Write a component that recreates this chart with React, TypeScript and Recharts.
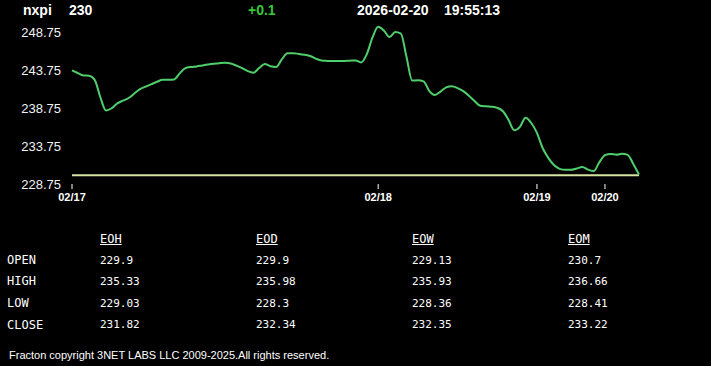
import React from "react";
import { LineChart, Line, XAxis, YAxis, ReferenceLine } from "recharts";

const SYMBOL = "nxpi";
const LAST = "230";
const CHANGE = "+0.1";
const QUOTE_DATE = "2026-02-20";
const QUOTE_TIME = "19:55:13";

const OPEN_REF = 229.9;
const Y_TICKS = [228.75, 233.75, 238.75, 243.75, 248.75];
const DAY_LABELS = ["02/17", "02/18", "02/19", "02/20"];
const DAY_START = [0, 54, 82, 94];

const PRICES = [
  243.75, 243.4, 243.08, 243.05, 242.5, 240.2, 238.45, 238.75, 239.4, 239.75,
  240.1, 240.7, 241.28, 241.6, 241.93, 242.25, 242.51, 242.5, 242.55, 243.35,
  244.05, 244.2, 244.27, 244.4, 244.52, 244.62, 244.7, 244.75, 244.65, 244.38,
  244.05, 243.65, 243.45, 244.05, 244.6, 244.3, 244.2, 245.2, 246.0, 246.02,
  245.92, 245.8, 245.65, 245.3, 245.05, 245.0, 244.98, 244.98, 245.0, 245.03,
  245.06, 244.8, 245.9, 248.1, 249.5, 249.0, 248.15, 248.8, 248.6, 245.5,
  242.4, 242.45, 242.3, 241.05, 240.5, 240.95, 241.5, 241.65, 241.4, 241.0,
  240.4, 239.7, 239.08, 239.0, 238.95, 238.8, 238.35, 237.2, 235.85, 236.3,
  237.5, 236.8, 235.5, 233.5, 232.2, 231.25, 230.75, 230.62, 230.63, 230.8,
  231.0, 230.65, 230.45, 231.6, 232.55, 232.72, 232.62, 232.75, 232.6, 231.4,
  230.0,
];

const ROW_LABELS = ["OPEN", "HIGH", "LOW", "CLOSE"];
const COL_LABELS = ["EOH", "EOD", "EOW", "EOM"];
const EOH = ["229.9", "235.33", "229.03", "231.82"];
const EOD = ["229.9", "235.98", "228.3", "232.34"];
const EOW = ["229.13", "235.93", "228.36", "232.35"];
const EOM = ["230.7", "236.66", "228.41", "233.22"];
const COLUMNS = [EOH, EOD, EOW, EOM];

const FOOTER = "Fracton copyright 3NET LABS LLC 2009-2025.All rights reserved.";

const data = PRICES.map((p, i) => ({ i, p }));

const SANS = "'Liberation Sans', Arial, sans-serif";
const MONO = "'DejaVu Sans Mono', monospace";

const COL_X = [100, 256, 412, 568];
const ROW_Y = [254, 275, 297, 318.5];

const abs = (left: number, top: number, extra: React.CSSProperties = {}): React.CSSProperties => ({
  position: "absolute",
  left,
  top,
  whiteSpace: "nowrap",
  ...extra,
});

export default function App() {
  const head: React.CSSProperties = {
    fontFamily: SANS,
    fontSize: 14,
    lineHeight: "14px",
    fontWeight: "bold",
    color: "#fff",
  };
  return (
    <div
      style={{
        position: "absolute",
        left: 0,
        top: 0,
        width: 711,
        height: 366,
        background: "#000",
        overflow: "hidden",
      }}
    >
      <div style={abs(23, 3, head)}>{SYMBOL}</div>
      <div style={abs(69, 3, head)}>{LAST}</div>
      <div style={abs(248, 3, { ...head, color: "#35c83a" })}>{CHANGE}</div>
      <div style={abs(357, 3, head)}>{QUOTE_DATE}</div>
      <div style={abs(444, 3, head)}>{QUOTE_TIME}</div>

      <div style={abs(0, 0)}>
        <LineChart
          width={711}
          height={210}
          data={data}
          margin={{ top: 23, right: 72, left: 0, bottom: 0 }}
        >
          <XAxis
            type="number"
            dataKey="i"
            domain={[0, PRICES.length - 1]}
            ticks={DAY_START}
            tickFormatter={(v) => DAY_LABELS[DAY_START.indexOf(v)]}
            axisLine={false}
            tickLine={{ stroke: "#fff" }}
            tickSize={5}
            tickMargin={4}
            height={26}
            interval={0}
            tick={{
              fill: "#fff",
              fontSize: 11,
              fontWeight: "bold",
              fontFamily: "'Liberation Sans Narrow', 'Arial Narrow', sans-serif",
            }}
          />
          <YAxis
            domain={[228.75, 250]}
            ticks={Y_TICKS}
            width={72}
            axisLine={false}
            tickLine={false}
            tickSize={0}
            tickMargin={11}
            interval={0}
            tickFormatter={(v) => Number(v).toFixed(2)}
            tick={{ fill: "#f2f2f2", fontSize: 13, fontFamily: SANS }}
          />
          <ReferenceLine y={OPEN_REF} stroke="#d5e3a2" strokeWidth={2} />
          <Line
            type="monotone"
            dataKey="p"
            stroke="#4fcf6c"
            strokeWidth={2}
            dot={false}
            isAnimationActive={false}
          />
        </LineChart>
      </div>

      {COL_LABELS.map((c, ci) => (
        <div
          key={c}
          style={abs(COL_X[ci], 233, {
            fontFamily: MONO,
            fontSize: 12,
            lineHeight: "12px",
            color: "#fff",
            textDecoration: "underline",
          })}
        >
          {c}
        </div>
      ))}
      {ROW_LABELS.map((r, ri) => (
        <div
          key={r}
          style={abs(7, ROW_Y[ri], {
            fontFamily: MONO,
            fontSize: 12,
            lineHeight: "12px",
            color: "#fff",
          })}
        >
          {r}
        </div>
      ))}
      {COLUMNS.map((col, ci) =>
        col.map((v, ri) => (
          <div
            key={`${ci}-${ri}`}
            style={abs(COL_X[ci], ROW_Y[ri] + 0.5, {
              fontFamily: MONO,
              fontSize: 11,
              lineHeight: "11px",
              color: "#fff",
            })}
          >
            {v}
          </div>
        ))
      )}

      <div
        style={abs(9, 350, {
          fontFamily: SANS,
          fontSize: 11,
          lineHeight: "11px",
          color: "#fff",
        })}
      >
        {FOOTER}
      </div>
    </div>
  );
}
